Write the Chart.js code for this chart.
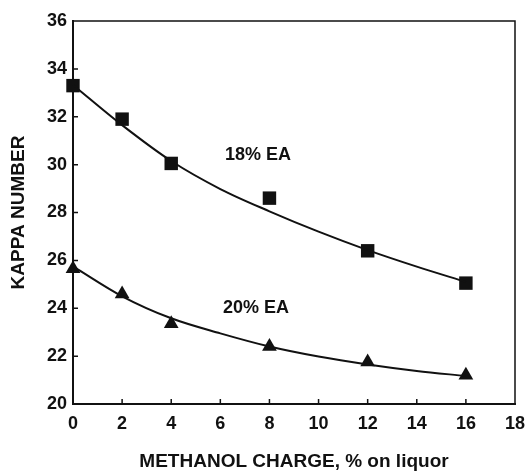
<!DOCTYPE html>
<html>
<head>
<meta charset="utf-8">
<script src="https://cdn.jsdelivr.net/npm/chart.js@4/dist/chart.umd.min.js"></script>
<style>
  html, body { margin: 0; padding: 0; background: #fff; }
  #wrap { width: 525px; height: 473px; }
</style>
</head>
<body>
<div id="wrap"><canvas id="c" width="525" height="473"></canvas></div>
<script>
// Methanol charge (% on liquor) and measured kappa numbers
const methanol = [0, 2, 4, 8, 12, 16];
const kappa18 = [33.3, 31.9, 30.05, 28.6, 26.4, 25.05];
const kappa20 = [25.65, 24.6, 23.35, 22.4, 21.75, 21.2];

// Smoothed trend lines drawn through each series
const trendX = [0, 2, 4, 6, 8, 10, 12, 14, 16];
const trend18 = [33.33, 31.65, 30.15, 28.98, 28.05, 27.2, 26.43, 25.74, 25.1];
const trend20 = [25.75, 24.5, 23.58, 22.95, 22.4, 21.98, 21.65, 21.38, 21.17];

// Curve labels: text, x, y
const curveLabels = [
  ['18% EA', 7.53, 30.38],
  ['20% EA', 7.45, 24.03]
];

const xTicks = [0, 2, 4, 6, 8, 10, 12, 14, 16, 18];
const yTicks = [20, 22, 24, 26, 28, 30, 32, 34, 36];

const FONT = "'Liberation Sans', Arial, Helvetica, sans-serif";
const INK = '#111';

const toPts = (xs, ys) => xs.map((x, i) => ({ x: x, y: ys[i] }));

// Frame on top/right, inward tick marks and curve labels
const decorations = {
  id: 'decorations',
  afterDatasetsDraw(chart) {
    const { ctx, chartArea: a, scales: { x, y } } = chart;
    ctx.save();
    ctx.strokeStyle = INK;
    ctx.lineWidth = 1.5;
    ctx.beginPath();
    ctx.moveTo(a.left, a.top);
    ctx.lineTo(a.right, a.top);
    ctx.lineTo(a.right, a.bottom);
    ctx.stroke();

    ctx.beginPath();
    xTicks.slice(1, -1).forEach(v => {
      const px = x.getPixelForValue(v);
      ctx.moveTo(px, a.bottom);
      ctx.lineTo(px, a.bottom - 5);
    });
    yTicks.slice(1, -1).forEach(v => {
      const py = y.getPixelForValue(v);
      ctx.moveTo(a.left, py);
      ctx.lineTo(a.left + 5, py);
    });
    ctx.stroke();

    ctx.fillStyle = INK;
    ctx.font = 'bold 18px ' + FONT;
    ctx.textAlign = 'center';
    ctx.textBaseline = 'middle';
    curveLabels.forEach(([t, vx, vy]) => {
      ctx.fillText(t, x.getPixelForValue(vx), y.getPixelForValue(vy));
    });
    ctx.restore();
  }
};

const trendStyle = {
  type: 'line',
  borderColor: INK,
  borderWidth: 2,
  pointRadius: 0,
  fill: false,
  clip: false,
  cubicInterpolationMode: 'monotone'
};

new Chart(document.getElementById('c'), {
  type: 'scatter',
  data: {
    datasets: [
      Object.assign({ label: '18% EA fit', data: toPts(trendX, trend18) }, trendStyle),
      Object.assign({ label: '20% EA fit', data: toPts(trendX, trend20) }, trendStyle),
      {
        label: '18% EA',
        data: toPts(methanol, kappa18),
        pointStyle: 'rect',
        pointRadius: 9.5,
        backgroundColor: INK,
        borderColor: INK,
        borderWidth: 0,
        clip: false
      },
      {
        label: '20% EA',
        data: toPts(methanol, kappa20),
        pointStyle: 'triangle',
        pointRadius: 8.5,
        backgroundColor: INK,
        borderColor: INK,
        borderWidth: 0,
        clip: false
      }
    ]
  },
  options: {
    responsive: false,
    animation: false,
    layout: { padding: { left: 0, right: 10, top: 21, bottom: 0 } },
    plugins: { legend: { display: false }, tooltip: { enabled: false } },
    scales: {
      x: {
        type: 'linear',
        min: 0, max: 18,
        afterFit: s => { s.height = 69; s.paddingRight = 0; s.paddingLeft = 0; },
        afterBuildTicks: s => { s.ticks = xTicks.map(v => ({ value: v })); },
        grid: { display: false, drawTicks: false },
        border: { display: true, color: INK, width: 2 },
        ticks: { color: INK, padding: 9, font: { family: FONT, size: 18, weight: 'bold' } },
        title: {
          display: true,
          text: 'METHANOL CHARGE, % on liquor',
          color: INK,
          padding: { top: 0, bottom: 0 },
          font: { family: FONT, size: 19, weight: 'bold' }
        }
      },
      y: {
        type: 'linear',
        min: 20, max: 36,
        afterFit: s => { s.width = 73; },
        afterBuildTicks: s => { s.ticks = yTicks.map(v => ({ value: v })); },
        grid: { display: false, drawTicks: false },
        border: { display: true, color: INK, width: 2 },
        ticks: { color: INK, padding: 6, font: { family: FONT, size: 18, weight: 'bold' } },
        title: {
          display: true,
          text: 'KAPPA NUMBER',
          color: INK,
          padding: { top: 7, bottom: 0 },
          font: { family: FONT, size: 19, weight: 'bold' }
        }
      }
    }
  },
  plugins: [decorations]
});
</script>
</body>
</html>
